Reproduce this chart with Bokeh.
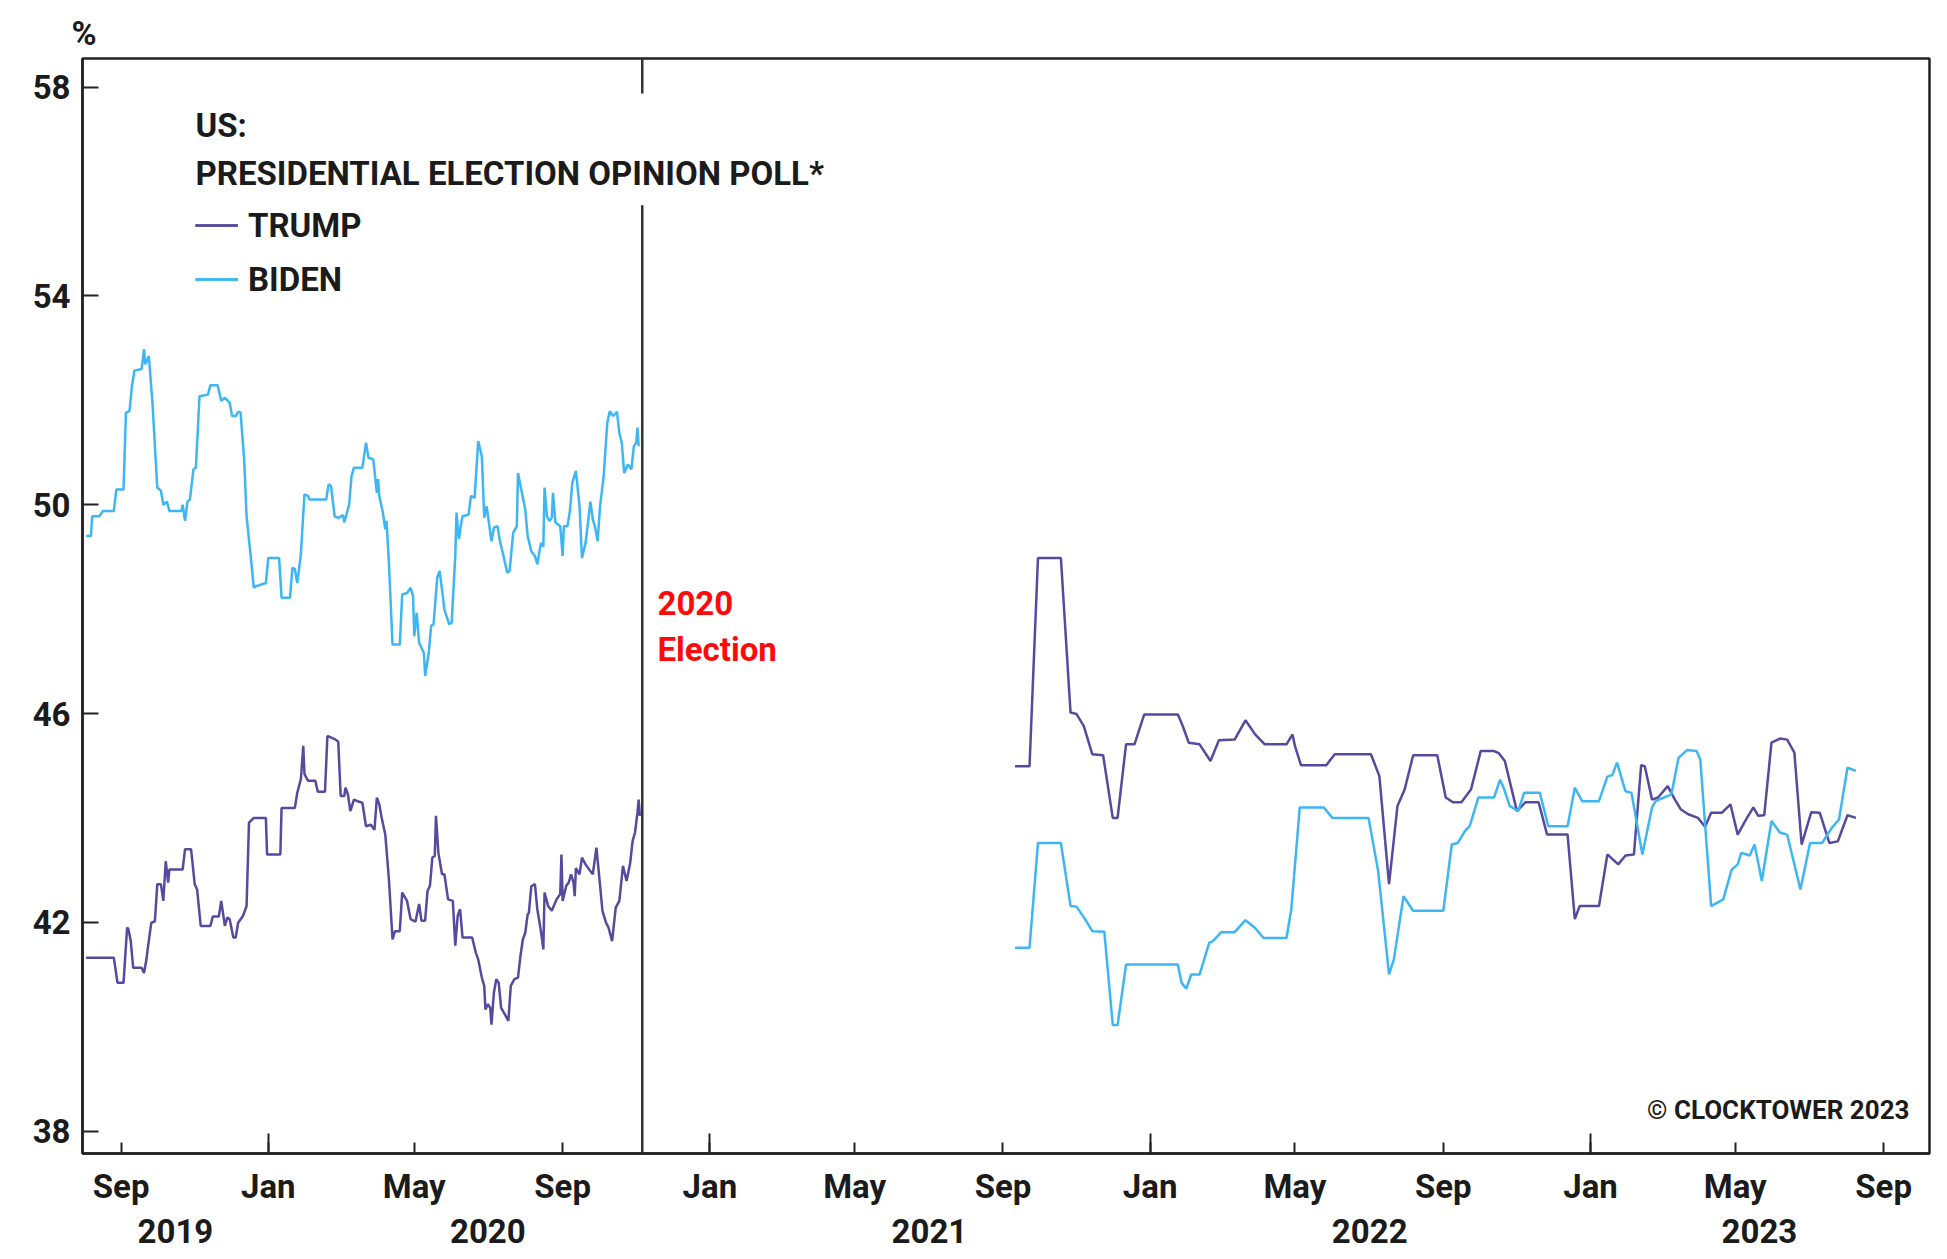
import pandas as pd
from bokeh.plotting import figure
from bokeh.models import (Range1d, FixedTicker, DatetimeTickFormatter, DatetimeAxis,
                          LinearAxis, Label, Legend, LegendItem, Title)
from bokeh.embed import file_html
from bokeh.resources import INLINE

FONT = "Roboto"
INK = "#1b1b1b"
TRUMP_COLOR = "#574a9e"
BIDEN_COLOR = "#3db6f3"

# ---------------- data ----------------
biden_2019_dates = [
    "2019-08-03", "2019-08-07", "2019-08-08", "2019-08-14", "2019-08-17", "2019-08-26", "2019-08-28", "2019-09-03", "2019-09-05", "2019-09-08",
    "2019-09-10", "2019-09-12", "2019-09-18", "2019-09-20", "2019-09-21", "2019-09-24", "2019-09-27", "2019-10-01", "2019-10-04", "2019-10-06",
    "2019-10-09", "2019-10-11", "2019-10-21", "2019-10-22", "2019-10-24", "2019-10-26", "2019-10-28", "2019-10-31", "2019-11-02", "2019-11-05",
    "2019-11-12", "2019-11-14", "2019-11-20", "2019-11-23", "2019-11-26", "2019-11-30", "2019-12-02", "2019-12-05", "2019-12-07", "2019-12-09",
    "2019-12-12", "2019-12-14", "2019-12-17", "2019-12-20", "2019-12-22", "2019-12-30", "2020-01-01", "2020-01-10", "2020-01-12", "2020-01-19",
    "2020-01-21", "2020-01-23", "2020-01-25", "2020-01-28", "2020-01-31", "2020-02-03", "2020-02-04", "2020-02-18", "2020-02-20", "2020-02-22",
    "2020-02-25", "2020-02-28", "2020-03-03", "2020-03-04", "2020-03-08", "2020-03-10", "2020-03-12", "2020-03-19", "2020-03-22", "2020-03-24",
    "2020-03-28", "2020-03-31", "2020-04-01", "2020-04-02", "2020-04-05", "2020-04-07", "2020-04-08", "2020-04-10", "2020-04-13", "2020-04-19",
    "2020-04-21", "2020-04-25", "2020-04-28", "2020-04-30", "2020-05-01", "2020-05-03", "2020-05-05", "2020-05-09", "2020-05-10", "2020-05-13",
    "2020-05-15", "2020-05-17", "2020-05-20", "2020-05-22", "2020-05-24", "2020-05-26", "2020-05-30", "2020-06-01", "2020-06-04", "2020-06-05",
    "2020-06-07", "2020-06-09", "2020-06-10", "2020-06-15", "2020-06-17", "2020-06-20", "2020-06-23", "2020-06-26", "2020-06-27", "2020-06-28",
    "2020-06-30", "2020-07-04", "2020-07-06", "2020-07-09", "2020-07-11", "2020-07-14", "2020-07-17", "2020-07-19", "2020-07-22", "2020-07-25",
    "2020-07-26", "2020-07-29", "2020-08-01", "2020-08-03", "2020-08-06", "2020-08-09", "2020-08-11", "2020-08-14", "2020-08-16", "2020-08-17",
    "2020-08-19", "2020-08-21", "2020-08-23", "2020-08-24", "2020-08-26", "2020-08-30", "2020-09-01", "2020-09-02", "2020-09-05", "2020-09-07",
    "2020-09-09", "2020-09-12", "2020-09-15", "2020-09-17", "2020-09-20", "2020-09-24", "2020-09-26", "2020-09-28", "2020-09-30", "2020-10-02",
    "2020-10-05", "2020-10-08", "2020-10-10", "2020-10-13", "2020-10-16", "2020-10-18", "2020-10-20", "2020-10-22", "2020-10-25", "2020-10-28",
    "2020-10-30", "2020-11-01", "2020-11-02", "2020-11-03",
]
biden_2019_values = [
    49.40, 49.40, 49.78, 49.78, 49.88, 49.88, 50.29, 50.29, 51.76, 51.80,
    52.28, 52.57, 52.60, 52.98, 52.69, 52.85, 51.95, 50.33, 50.27, 50.00,
    50.06, 49.88, 49.88, 50.00, 49.69, 50.06, 50.10, 50.68, 50.71, 52.08,
    52.11, 52.29, 52.29, 51.99, 52.05, 51.95, 51.70, 51.70, 51.78, 51.77,
    50.87, 49.78, 49.11, 48.41, 48.44, 48.50, 48.98, 48.98, 48.22, 48.22,
    48.79, 48.77, 48.50, 49.05, 50.20, 50.17, 50.10, 50.10, 50.39, 50.36,
    49.78, 49.75, 49.80, 49.66, 50.00, 50.55, 50.71, 50.71, 51.19, 50.90,
    50.87, 50.23, 50.49, 50.17, 49.85, 49.53, 49.69, 48.89, 47.32, 47.32,
    48.28, 48.31, 48.41, 48.25, 47.48, 47.93, 47.36, 47.16, 46.72, 47.16,
    47.68, 47.71, 48.60, 48.73, 48.38, 47.99, 47.71, 47.74, 49.02, 49.85,
    49.34, 49.66, 49.78, 49.81, 50.17, 50.13, 51.22, 50.93, 50.36, 49.75,
    49.97, 49.30, 49.56, 49.59, 49.30, 49.02, 48.70, 48.73, 49.46, 49.59,
    50.61, 50.26, 49.91, 49.40, 49.11, 49.02, 48.86, 49.27, 49.20, 50.33,
    49.78, 49.69, 49.75, 50.23, 49.66, 49.59, 49.02, 49.59, 49.59, 49.88,
    50.42, 50.65, 49.97, 48.98, 49.27, 50.06, 49.72, 49.56, 49.30, 49.97,
    50.55, 51.57, 51.79, 51.70, 51.78, 51.38, 51.19, 50.61, 50.77, 50.68,
    51.12, 51.19, 51.48, 51.12,
]

trump_2019_dates = [
    "2019-08-03", "2019-08-26", "2019-08-29", "2019-09-03", "2019-09-06", "2019-09-07", "2019-09-09", "2019-09-11", "2019-09-18", "2019-09-20",
    "2019-09-22", "2019-09-23", "2019-09-26", "2019-09-29", "2019-10-01", "2019-10-04", "2019-10-06", "2019-10-08", "2019-10-10", "2019-10-11",
    "2019-10-22", "2019-10-24", "2019-10-29", "2019-11-01", "2019-11-03", "2019-11-06", "2019-11-14", "2019-11-16", "2019-11-21", "2019-11-23",
    "2019-11-26", "2019-11-28", "2019-11-30", "2019-12-03", "2019-12-05", "2019-12-07", "2019-12-11", "2019-12-14", "2019-12-16", "2019-12-20",
    "2019-12-30", "2019-12-31", "2020-01-11", "2020-01-12", "2020-01-23", "2020-01-25", "2020-01-28", "2020-01-30", "2020-01-31", "2020-02-03",
    "2020-02-09", "2020-02-11", "2020-02-17", "2020-02-19", "2020-02-25", "2020-02-28", "2020-03-01", "2020-03-04", "2020-03-05", "2020-03-07",
    "2020-03-09", "2020-03-12", "2020-03-15", "2020-03-19", "2020-03-22", "2020-03-26", "2020-03-29", "2020-03-31", "2020-04-02", "2020-04-04",
    "2020-04-07", "2020-04-10", "2020-04-13", "2020-04-15", "2020-04-19", "2020-04-21", "2020-04-25", "2020-04-28", "2020-05-02", "2020-05-05",
    "2020-05-07", "2020-05-10", "2020-05-12", "2020-05-14", "2020-05-16", "2020-05-18", "2020-05-19", "2020-05-21", "2020-05-24", "2020-05-26",
    "2020-05-29", "2020-06-02", "2020-06-04", "2020-06-06", "2020-06-08", "2020-06-10", "2020-06-18", "2020-06-21", "2020-06-23", "2020-06-26",
    "2020-06-28", "2020-06-29", "2020-07-01", "2020-07-03", "2020-07-04", "2020-07-06", "2020-07-08", "2020-07-10", "2020-07-12", "2020-07-15",
    "2020-07-18", "2020-07-20", "2020-07-23", "2020-07-26", "2020-07-28", "2020-07-30", "2020-08-01", "2020-08-03", "2020-08-04", "2020-08-06",
    "2020-08-09", "2020-08-11", "2020-08-14", "2020-08-16", "2020-08-17", "2020-08-20", "2020-08-23", "2020-08-27", "2020-08-30", "2020-08-31",
    "2020-09-01", "2020-09-04", "2020-09-06", "2020-09-08", "2020-09-10", "2020-09-11", "2020-09-12", "2020-09-15", "2020-09-17", "2020-09-20",
    "2020-09-23", "2020-09-26", "2020-09-29", "2020-10-01", "2020-10-04", "2020-10-07", "2020-10-09", "2020-10-12", "2020-10-15", "2020-10-18",
    "2020-10-21", "2020-10-24", "2020-10-27", "2020-10-29", "2020-10-31", "2020-11-02", "2020-11-03", "2020-11-04",
]
trump_2019_values = [
    41.32, 41.32, 40.84, 40.84, 41.90, 41.87, 41.64, 41.13, 41.13, 41.03,
    41.29, 41.48, 41.99, 42.02, 42.73, 42.73, 42.41, 43.17, 42.76, 43.01,
    43.01, 43.40, 43.40, 42.73, 42.63, 41.93, 41.93, 42.11, 42.11, 42.41,
    41.93, 42.09, 42.06, 41.71, 41.71, 41.99, 42.12, 42.31, 43.91, 44.00,
    44.00, 43.30, 43.30, 44.19, 44.19, 44.48, 44.74, 45.38, 44.84, 44.71,
    44.71, 44.50, 44.50, 45.57, 45.51, 45.46, 44.42, 44.42, 44.58, 44.45,
    44.13, 44.35, 44.32, 44.29, 43.84, 43.87, 43.77, 44.39, 44.26, 44.00,
    43.68, 42.82, 41.67, 41.83, 41.83, 42.57, 42.41, 42.06, 42.01, 42.35,
    42.03, 42.03, 42.60, 42.70, 43.24, 43.27, 44.04, 43.33, 42.92, 42.92,
    42.44, 42.41, 41.55, 42.12, 42.25, 41.71, 41.71, 41.42, 41.29, 40.94,
    40.78, 40.33, 40.43, 40.36, 40.04, 40.65, 40.91, 40.84, 40.36, 40.24,
    40.11, 40.78, 40.91, 40.94, 41.35, 41.67, 41.80, 42.15, 42.18, 42.69,
    42.73, 42.25, 41.83, 41.48, 42.57, 42.31, 42.22, 42.44, 42.54, 43.30,
    42.41, 42.70, 42.76, 42.92, 42.76, 42.50, 43.04, 42.92, 43.24, 43.11,
    43.01, 42.92, 43.43, 42.95, 42.22, 41.99, 41.90, 41.64, 42.28, 42.41,
    43.08, 42.79, 43.14, 43.56, 43.72, 44.10, 44.35, 44.04,
]

trump_2021_dates = [
    "2021-09-11", "2021-09-23", "2021-09-30", "2021-10-19", "2021-10-27", "2021-11-01", "2021-11-07", "2021-11-14", "2021-11-23", "2021-12-01",
    "2021-12-05", "2021-12-12", "2021-12-19", "2021-12-27", "2022-01-24", "2022-01-28", "2022-02-02", "2022-02-11", "2022-02-20", "2022-02-27",
    "2022-03-12", "2022-03-21", "2022-03-29", "2022-04-06", "2022-04-24", "2022-04-29", "2022-05-01", "2022-05-06", "2022-05-27", "2022-06-03",
    "2022-07-03", "2022-07-10", "2022-07-18", "2022-07-25", "2022-07-31", "2022-08-07", "2022-08-27", "2022-09-03", "2022-09-09", "2022-09-16",
    "2022-09-24", "2022-10-02", "2022-10-13", "2022-10-17", "2022-10-22", "2022-11-01", "2022-11-08", "2022-11-19", "2022-11-26", "2022-12-13",
    "2022-12-19", "2022-12-23", "2023-01-08", "2023-01-15", "2023-01-24", "2023-01-30", "2023-02-06", "2023-02-12", "2023-02-15", "2023-02-21",
    "2023-02-26", "2023-03-06", "2023-03-12", "2023-03-17", "2023-03-23", "2023-03-31", "2023-04-06", "2023-04-11", "2023-04-20", "2023-04-27",
    "2023-05-03", "2023-05-10", "2023-05-16", "2023-05-20", "2023-05-25", "2023-05-31", "2023-06-07", "2023-06-13", "2023-06-19", "2023-06-25",
    "2023-07-03", "2023-07-10", "2023-07-18", "2023-07-25", "2023-08-02", "2023-08-09",
]
trump_2021_values = [
    44.99, 44.99, 48.98, 48.98, 46.02, 45.99, 45.76, 45.22, 45.20, 44.00,
    44.00, 45.41, 45.41, 45.98, 45.98, 45.76, 45.44, 45.41, 45.09, 45.49,
    45.50, 45.87, 45.60, 45.41, 45.41, 45.60, 45.38, 45.01, 45.01, 45.22,
    45.22, 44.80, 42.73, 44.23, 44.55, 45.20, 45.20, 44.39, 44.30, 44.30,
    44.55, 45.28, 45.28, 45.24, 45.09, 44.13, 44.30, 44.30, 43.68, 43.68,
    42.06, 42.31, 42.31, 43.30, 43.11, 43.28, 43.30, 45.01, 44.99, 44.35,
    44.39, 44.61, 44.35, 44.16, 44.07, 44.00, 43.83, 44.10, 44.10, 44.26,
    43.68, 43.97, 44.20, 44.04, 44.05, 45.44, 45.52, 45.50, 45.25, 43.49,
    44.11, 44.10, 43.52, 43.55, 44.05, 44.00,
]

biden_2021_dates = [
    "2021-09-11", "2021-09-23", "2021-09-30", "2021-10-19", "2021-10-27", "2021-11-01", "2021-11-08", "2021-11-14", "2021-11-24", "2021-12-01",
    "2021-12-05", "2021-12-12", "2022-01-24", "2022-01-27", "2022-01-31", "2022-02-04", "2022-02-11", "2022-02-19", "2022-02-22", "2022-03-01",
    "2022-03-12", "2022-03-21", "2022-03-29", "2022-04-05", "2022-04-24", "2022-04-28", "2022-05-05", "2022-05-25", "2022-06-01", "2022-07-01",
    "2022-07-09", "2022-07-18", "2022-07-22", "2022-07-30", "2022-08-07", "2022-09-01", "2022-09-08", "2022-09-13", "2022-09-19", "2022-09-23",
    "2022-09-30", "2022-10-13", "2022-10-18", "2022-10-21", "2022-10-26", "2022-11-02", "2022-11-07", "2022-11-20", "2022-11-27", "2022-12-13",
    "2022-12-19", "2022-12-25", "2023-01-08", "2023-01-15", "2023-01-19", "2023-01-23", "2023-01-30", "2023-02-04", "2023-02-13", "2023-02-21",
    "2023-02-24", "2023-03-09", "2023-03-15", "2023-03-22", "2023-03-30", "2023-04-02", "2023-04-11", "2023-04-21", "2023-04-28", "2023-05-03",
    "2023-05-06", "2023-05-13", "2023-05-17", "2023-05-23", "2023-05-31", "2023-06-07", "2023-06-13", "2023-06-17", "2023-06-24", "2023-07-02",
    "2023-07-12", "2023-07-20", "2023-07-26", "2023-08-02", "2023-08-09",
]
biden_2021_values = [
    41.51, 41.51, 43.52, 43.52, 42.31, 42.30, 42.06, 41.83, 41.82, 40.03,
    40.03, 41.19, 41.19, 40.84, 40.73, 41.00, 41.00, 41.61, 41.64, 41.81,
    41.81, 42.04, 41.89, 41.70, 41.70, 42.25, 44.20, 44.20, 44.00, 44.00,
    42.98, 41.00, 41.29, 42.50, 42.22, 42.22, 43.49, 43.52, 43.75, 43.85,
    44.39, 44.39, 44.73, 44.58, 44.23, 44.13, 44.48, 44.48, 43.84, 43.84,
    44.58, 44.32, 44.32, 44.79, 44.82, 45.06, 44.51, 44.48, 43.30, 44.20,
    44.32, 44.45, 45.15, 45.30, 45.28, 45.12, 42.31, 42.44, 43.01, 43.11,
    43.33, 43.28, 43.49, 42.79, 43.94, 43.72, 43.68, 43.30, 42.63, 43.52,
    43.52, 43.81, 43.97, 44.96, 44.90,
]

y_ticks = [38, 42, 46, 50, 54, 58]
month_ticks = ["2019-09-01", "2020-01-01", "2020-05-01", "2020-09-01", "2021-01-01", "2021-05-01", "2021-09-01",
               "2022-01-01", "2022-05-01", "2022-09-01", "2023-01-01", "2023-05-01", "2023-09-01"]
january_ticks = ["2020-01-01", "2021-01-01", "2022-01-01", "2023-01-01"]
year_label_positions = ["2019-10-16", "2020-07-01", "2021-07-02", "2022-07-02", "2023-05-21"]
election_date = "2020-11-06"
x_start, x_end = "2019-07-31", "2023-10-09"
y_start, y_end = 37.57, 58.55


def ms(s):
    return pd.Timestamp(s).value / 1e6


# ---------------- figure ----------------
p = figure(width=1931, height=1251, output_backend="svg", toolbar_location=None,
           x_axis_type=None, y_axis_type=None,
           x_range=Range1d(ms(x_start), ms(x_end)), y_range=Range1d(y_start, y_end),
           min_border_left=82, min_border_right=2, min_border_top=58, min_border_bottom=98)
p.background_fill_color = "white"
p.border_fill_color = "white"
p.outline_line_color = "#222222"
p.outline_line_width = 2.5
p.outline_line_alpha = 1.0

p.title = Title(text="%", align="left", offset=-11, standoff=12,
                text_font=FONT, text_font_style="bold", text_font_size="34px", text_color=INK)

label_font_size = "33px"


def style_axis(ax):
    ax.axis_line_color = "#222222"
    ax.axis_line_width = 2.5
    ax.major_tick_line_color = "#222222"
    ax.major_tick_line_width = 2
    ax.minor_tick_line_color = "#222222"
    ax.minor_tick_line_width = 2
    ax.major_label_text_font = FONT
    ax.major_label_text_font_style = "bold"
    ax.major_label_text_font_size = label_font_size
    ax.major_label_text_color = INK


yax = LinearAxis(ticker=FixedTicker(ticks=y_ticks))
style_axis(yax)
yax.major_tick_in = 16
yax.major_tick_out = 0
yax.minor_tick_line_color = None
yax.major_label_standoff = 12
p.add_layout(yax, "left")

month_fmt = DatetimeTickFormatter(milliseconds="%b", seconds="%b", minsec="%b", minutes="%b", hourmin="%b",
                                  hours="%b", days="%b", months="%b", years="%b")
xax = DatetimeAxis(ticker=FixedTicker(ticks=[ms(d) for d in month_ticks],
                                      minor_ticks=[ms(d) for d in january_ticks]),
                   formatter=month_fmt)
style_axis(xax)
xax.major_tick_in = 11
xax.major_tick_out = 0
xax.minor_tick_in = 20
xax.minor_tick_out = 0
xax.major_label_standoff = 13
p.add_layout(xax, "below")

year_fmt = DatetimeTickFormatter(milliseconds="%Y", seconds="%Y", minsec="%Y", minutes="%Y", hourmin="%Y",
                                 hours="%Y", days="%Y", months="%Y", years="%Y")
yrax = DatetimeAxis(ticker=FixedTicker(ticks=[ms(d) for d in year_label_positions], minor_ticks=[]),
                    formatter=year_fmt)
style_axis(yrax)
yrax.axis_line_color = None
yrax.major_tick_line_color = None
yrax.minor_tick_line_color = None
yrax.major_tick_in = 0
yrax.major_tick_out = 0
yrax.major_label_standoff = 10
p.add_layout(yrax, "below")

# election marker line (interrupted behind the heading)
e = ms(election_date)
p.segment(x0=[e, e], y0=[y_start, 57.88], x1=[e, e], y1=[55.74, y_end],
          line_color="#333333", line_width=2.5)

# series
rt1 = p.line(pd.to_datetime(trump_2019_dates), trump_2019_values, line_color=TRUMP_COLOR, line_width=2.5)
rt2 = p.line(pd.to_datetime(trump_2021_dates), trump_2021_values, line_color=TRUMP_COLOR, line_width=2.5)
rb1 = p.line(pd.to_datetime(biden_2019_dates), biden_2019_values, line_color=BIDEN_COLOR, line_width=2.5)
rb2 = p.line(pd.to_datetime(biden_2021_dates), biden_2021_values, line_color=BIDEN_COLOR, line_width=2.5)

legend = Legend(items=[LegendItem(label="TRUMP", renderers=[rt1, rt2]),
                       LegendItem(label="BIDEN", renderers=[rb1, rb2])],
                location=(113, 854), orientation="vertical")
legend.border_line_color = None
legend.background_fill_alpha = 0
legend.padding = 0
legend.margin = 0
legend.spacing = 14
legend.glyph_width = 43
legend.glyph_height = 40
legend.label_height = 40
legend.label_standoff = 10
legend.label_text_font = FONT
legend.label_text_font_style = "bold"
legend.label_text_font_size = label_font_size
legend.label_text_color = INK
legend.label_text_baseline = "middle"
p.add_layout(legend)


def add_label(text, x, y, size=label_font_size, color=INK, align="left"):
    p.add_layout(Label(x=x, y=y, x_units="screen", y_units="screen", text=text,
                       text_font=FONT, text_font_style="bold", text_font_size=size,
                       text_color=color, text_align=align, text_baseline="middle"))


add_label("US:", 113, 1028)
add_label("PRESIDENTIAL ELECTION OPINION POLL*", 113, 980)
add_label("2020", 575, 551, color="#ff0a0a")
add_label("Election", 575, 504, color="#ff0a0a")
add_label("\u00a9 CLOCKTOWER 2023", 1827, 44, size="26px", align="right")

open("out.html", "w").write(file_html(p, INLINE))
